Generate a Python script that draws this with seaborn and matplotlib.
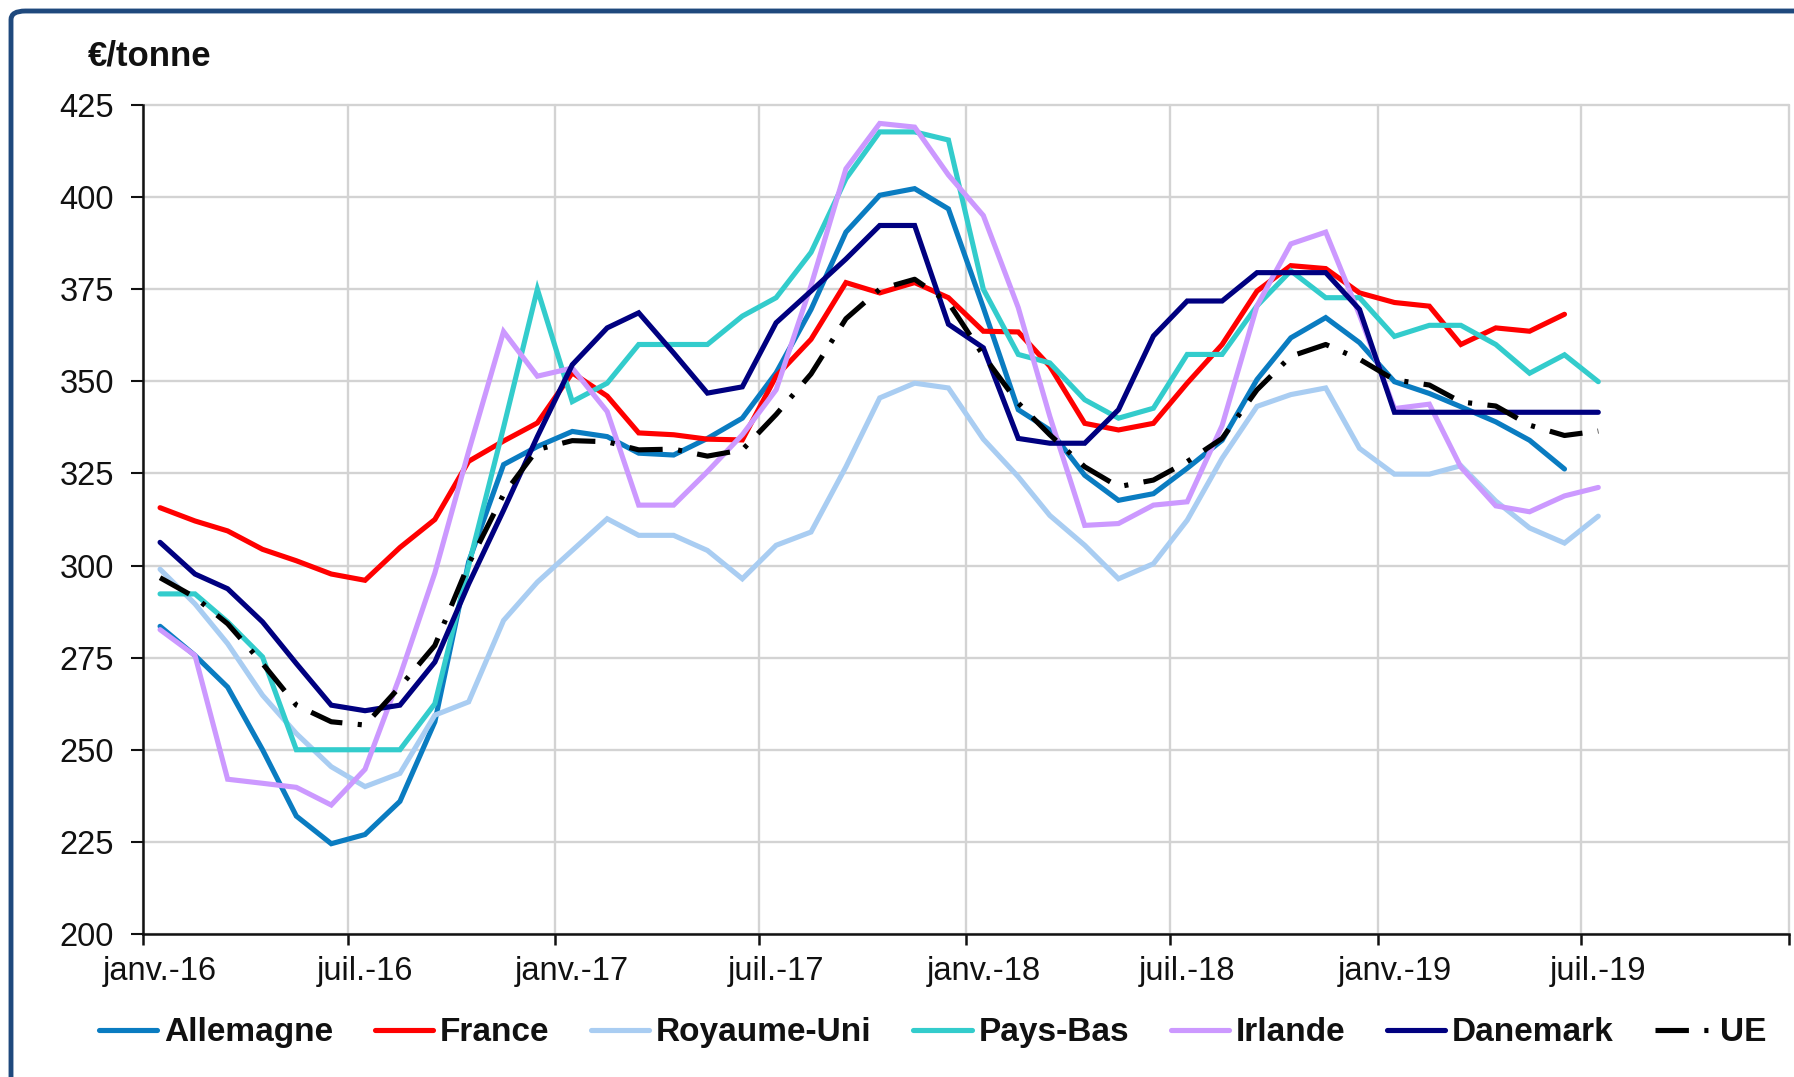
import numpy as np
import pandas as pd
import matplotlib
matplotlib.use("Agg")
import matplotlib.pyplot as plt
import matplotlib.dates as mdates
from matplotlib.lines import Line2D
from matplotlib.patches import FancyBboxPatch
from matplotlib.ticker import NullFormatter
import seaborn as sns

# ---------------- data (EUR / tonne, monthly from janv.-16) ----------------
allemagne = [283.5, 275.6, 267.0, 250.0, 232.0, 224.5, 227.0, 236.0, 257.6, 301.0, 327.4, 332.3,
             336.4, 335.0, 330.5, 330.0, 334.5, 340.0, 352.3, 369.5, 390.5, 400.5, 402.3, 396.8,
             370.0, 342.3, 336.8, 324.5, 317.7, 319.5, 326.4, 334.0, 350.5, 361.8, 367.3, 360.5,
             349.9, 346.7, 343.1, 339.0, 334.0, 326.2]
france = [315.7, 312.1, 309.4, 304.4, 301.3, 297.7, 296.0, 304.9, 312.5, 328.3, 333.8, 338.7,
          352.3, 346.0, 336.0, 335.5, 334.3, 334.1, 351.4, 361.4, 376.8, 374.0, 376.8, 372.7,
          363.6, 363.4, 354.1, 338.6, 336.8, 338.6, 349.5, 360.0, 374.5, 381.4, 380.6, 374.0,
          371.4, 370.4, 360.0, 364.5, 363.6, 368.2]
royaume_uni = [299.0, 289.6, 278.8, 264.8, 254.4, 245.4, 240.0, 243.6, 259.4, 263.0, 285.1, 295.5,
               304.1, 312.7, 308.2, 308.2, 304.1, 296.4, 305.5, 309.1, 326.8, 345.5, 349.5, 348.2,
               334.3, 324.1, 313.6, 305.5, 296.4, 300.5, 312.3, 329.1, 343.2, 346.4, 348.2, 331.8,
               324.8, 324.8, 327.1, 317.5, 310.2, 306.1, 313.4]
pays_bas = [292.3, 292.3, 284.7, 275.2, 250.0, 250.0, 250.0, 250.0, 262.5, 300.0, 337.5, 375.0,
            344.5, 349.5, 360.0, 360.0, 360.0, 367.7, 372.7, 385.0, 405.0, 417.7, 417.7, 415.5,
            375.0, 357.3, 355.0, 345.0, 340.0, 342.7, 357.3, 357.3, 370.5, 380.0, 372.7, 372.7,
            362.2, 365.2, 365.2, 360.0, 352.2, 357.2, 349.9]
irlande = [282.6, 275.6, 242.0, 240.9, 239.8, 235.0, 244.7, 270.0, 298.0, 331.0, 363.5, 351.4,
           353.6, 341.8, 316.4, 316.4, 325.5, 335.5, 347.7, 376.0, 407.7, 420.0, 419.0, 406.0,
           395.0, 370.0, 340.5, 310.9, 311.4, 316.4, 317.3, 338.0, 370.5, 387.3, 390.5, 368.0,
           342.6, 343.8, 326.7, 316.2, 314.6, 318.9, 321.2]
danemark = [306.3, 297.7, 293.7, 284.7, 273.4, 262.1, 260.6, 262.1, 273.8, 295.0, 315.0, 335.0,
            354.5, 364.5, 368.6, 357.7, 346.8, 348.5, 365.9, 374.5, 383.2, 392.3, 392.3, 365.5,
            359.1, 334.5, 333.2, 333.2, 342.3, 362.3, 371.8, 371.8, 379.5, 379.5, 379.5, 369.5,
            341.6, 341.6, 341.6, 341.6, 341.6, 341.6, 341.6]
ue = [296.7, 291.4, 284.2, 273.4, 262.1, 257.6, 256.7, 267.1, 278.3, 300.4, 319.3, 331.5,
      333.9, 333.6, 331.4, 331.6, 329.7, 331.4, 341.0, 352.0, 367.0, 375.0, 377.7, 371.4,
      357.0, 344.1, 335.5, 326.8, 321.4, 323.2, 328.2, 334.5, 347.7, 356.8, 360.0, 356.0,
      350.4, 349.0, 344.4, 343.3, 338.1, 335.3, 336.5]

series_names = ["Allemagne", "France", "Royaume-Uni", "Pays-Bas", "Irlande", "Danemark", "UE"]
series_values = [allemagne, france, royaume_uni, pays_bas, irlande, danemark, ue]
series_colors = ["#0A7CC1", "#FF0000", "#A9CDF2", "#33CCCC", "#CC99FF", "#000080", "#000000"]
tick_labels = ["janv.-16", "juil.-16", "janv.-17", "juil.-17", "janv.-18", "juil.-18",
               "janv.-19", "juil.-19"]
y_ticks = [200, 225, 250, 275, 300, 325, 350, 375, 400, 425]
unit_label = "€/tonne"

# ---------------- build long table ----------------
months = pd.date_range("2016-01-01", periods=43, freq="MS")
mid_month = months + pd.Timedelta(days=15)
frames = []
for name, vals in zip(series_names, series_values):
    frames.append(pd.DataFrame({"date": mid_month[:len(vals)], "valeur": vals, "pays": name}))
df = pd.concat(frames, ignore_index=True)

# ---------------- style ----------------
sns.set_style("white")
plt.rcParams["font.family"] = ["Liberation Sans", "DejaVu Sans"]

LW = 3.7
ue_dash = (6.5, 3.0, 0.8, 3.0)
palette = dict(zip(series_names, series_colors))
dashes = {n: "" for n in series_names}
dashes["UE"] = ue_dash

fig = plt.figure(figsize=(17.94, 10.77), dpi=100)
ax = fig.add_axes([0.0798, 0.1328, 0.9172, 0.7697])

sns.lineplot(data=df, x="date", y="valeur", hue="pays", style="pays",
             hue_order=series_names, style_order=series_names,
             palette=palette, dashes=dashes, linewidth=LW, legend=False, ax=ax)
for ln in ax.get_lines():
    ln.set_dash_capstyle("butt")
    ln.set_solid_joinstyle("miter")

# axes limits / ticks
x0 = pd.Timestamp("2016-01-01")
x1 = pd.Timestamp("2020-01-01")
ax.set_xlim(mdates.date2num(x0), mdates.date2num(x1))
ax.set_ylim(200, 425)
major = pd.date_range(x0, x1, freq="6MS")
ax.set_xticks(mdates.date2num(major))
ax.xaxis.set_major_formatter(NullFormatter())
minor = major[:-1] + pd.Timedelta(days=15)
ax.set_xticks(mdates.date2num(minor), minor=True)
ax.set_xticklabels(tick_labels, minor=True)
ax.set_yticks(y_ticks)
ax.set_yticklabels([str(v) for v in y_ticks])

ax.set_xlabel("")
ax.set_ylabel("")

ax.grid(True, which="major", axis="both", color="#D3D3D3", linewidth=1.7)
ax.set_axisbelow(True)
for gl in ax.get_xgridlines() + ax.get_ygridlines():
    gl.set_clip_on(False)

for s in ["top", "right"]:
    ax.spines[s].set_visible(False)
for s in ["left", "bottom"]:
    ax.spines[s].set_color("#111111")
    ax.spines[s].set_linewidth(1.8)

ax.tick_params(axis="x", which="major", direction="out", length=8, width=1.8,
               color="#111111", labelbottom=False, bottom=True)
ax.tick_params(axis="x", which="minor", length=0, labelsize=23.5, pad=16,
               labelcolor="#111111")
ax.tick_params(axis="y", which="major", direction="out", length=9, width=1.5,
               color="#111111", labelsize=23.5, pad=12, labelcolor="#111111", left=True)

# unit label
fig.text(88 / 1794, 1 - 66 / 1077, unit_label, fontsize=25, fontweight="bold",
         color="#111111", va="baseline", ha="left")

# legend
handles = []
for name, col in zip(series_names, series_colors):
    ls = (0, ue_dash) if name == "UE" else "-"
    h = Line2D([], [], color=col, lw=LW, linestyle=ls)
    h.set_dash_capstyle("butt")
    handles.append(h)
fig.legend(handles, series_names, loc="center", bbox_to_anchor=(0.520, 0.041), ncol=7,
           frameon=False, prop={"weight": "bold", "size": 24}, handlelength=1.75,
           handletextpad=0.2, columnspacing=1.25, labelcolor="#111111")

# outer frame (rounded, dark blue)
frame = FancyBboxPatch((11 / 1794, -0.2), 1.3, 0.2 + 1 - 11 / 1077,
                       boxstyle="round,pad=0,rounding_size=0.008",
                       transform=fig.transFigure, fill=False, ec="#1F497D", lw=3.5,
                       clip_on=False)
fig.patches.append(frame)

fig.savefig("out.png", dpi=100)
